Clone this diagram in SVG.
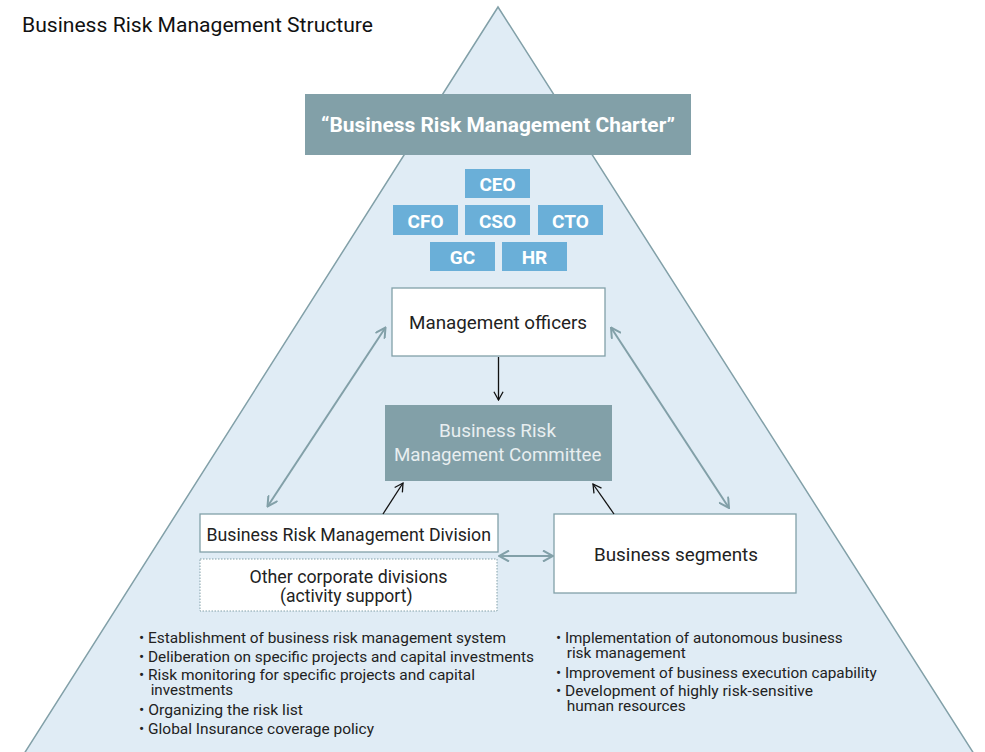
<svg xmlns="http://www.w3.org/2000/svg" width="985" height="752" viewBox="0 0 985 752">
<defs>
<style>
text{font-family:Roboto,"Noto Sans","Liberation Sans",sans-serif;}
.tri{fill:#e0ecf5;stroke:#82a0a8;stroke-width:1.5;}
.role rect{fill:#6aafd8;}
.role text{fill:#fff;font-size:19px;font-weight:bold;text-anchor:middle;}
.box{fill:#fff;stroke:#82a0a8;stroke-width:1.3;}
.lbl{fill:#222;font-size:17.5px;}
.bul{fill:#222;font-size:14px;}
.grey{stroke:#82a0a8;stroke-width:2;fill:none;}
.blk{stroke:#111;stroke-width:1.3;fill:none;}
</style>
<marker id="ga" viewBox="0 0 12 12" refX="11" refY="6" markerWidth="12" markerHeight="12" markerUnits="userSpaceOnUse" orient="auto-start-reverse">
<path d="M1,0.5 L11,6 L1,11.5" fill="none" stroke="#82a0a8" stroke-width="2"/>
</marker>
<marker id="ba" viewBox="0 0 12 12" refX="11" refY="6" markerWidth="11" markerHeight="11" markerUnits="userSpaceOnUse" orient="auto">
<path d="M2,1 L11,6 L2,11" fill="none" stroke="#111" stroke-width="1.4"/>
</marker>
</defs>
<rect width="985" height="752" fill="#fff"/>
<polygon class="tri" points="498,7 22,757 976,757"/>
<text x="22" y="32" font-size="19.5" fill="#111" textLength="351" lengthAdjust="spacingAndGlyphs">Business Risk Management Structure</text>
<g id="charter">
<rect x="305" y="94" width="386" height="61" fill="#82a0a8"/>
<text x="321" y="132" font-size="19.5" font-weight="bold" fill="#fff" textLength="354" lengthAdjust="spacingAndGlyphs">“Business Risk Management Charter”</text>
</g>
<g id="ceo" class="role"><rect x="465" y="169" width="65" height="29"/><text x="497.5" y="190.5">CEO</text></g>
<g id="cfo" class="role"><rect x="393" y="205" width="65" height="30"/><text x="425.5" y="227.5">CFO</text></g>
<g id="cso" class="role"><rect x="465" y="205" width="65" height="30"/><text x="497.5" y="227.5">CSO</text></g>
<g id="cto" class="role"><rect x="538" y="205" width="65" height="30"/><text x="570.5" y="227.5">CTO</text></g>
<g id="gc" class="role"><rect x="430" y="242" width="65" height="29"/><text x="462.5" y="264">GC</text></g>
<g id="hr" class="role"><rect x="502" y="242" width="65" height="29"/><text x="534.5" y="264">HR</text></g>
<g id="officers">
<rect class="box" x="392" y="288" width="213" height="68"/>
<text class="lbl" x="409" y="328.5" textLength="178" lengthAdjust="spacingAndGlyphs">Management officers</text>
</g>
<g id="committee">
<rect x="385" y="405" width="227" height="76" fill="#82a0a8"/>
<text x="439" y="437" font-size="17.5" fill="#e8eef0" textLength="117" lengthAdjust="spacingAndGlyphs">Business Risk</text>
<text x="394" y="461" font-size="17.5" fill="#e8eef0" textLength="207.5" lengthAdjust="spacingAndGlyphs">Management Committee</text>
</g>
<g id="brmd">
<rect class="box" x="200" y="514" width="298" height="38"/>
<text class="lbl" x="206.5" y="540.5" textLength="284.5" lengthAdjust="spacingAndGlyphs">Business Risk Management Division</text>
</g>
<g id="other">
<rect x="200" y="559" width="297" height="52" fill="#fff" stroke="#82a0a8" stroke-width="1" stroke-dasharray="1.5,1.5"/>
<text class="lbl" x="249.5" y="582.5" textLength="198" lengthAdjust="spacingAndGlyphs">Other corporate divisions</text>
<text class="lbl" x="280" y="601.5" textLength="132.5" lengthAdjust="spacingAndGlyphs">(activity support)</text>
</g>
<g id="segments">
<rect class="box" x="554" y="514" width="242" height="79"/>
<text class="lbl" x="594" y="560.5" textLength="164" lengthAdjust="spacingAndGlyphs">Business segments</text>
</g>
<g id="connectors">
<line class="grey" x1="267.5" y1="506.5" x2="385.5" y2="327.5" marker-start="url(#ga)" marker-end="url(#ga)"/>
<line class="grey" x1="611" y1="327.5" x2="729" y2="508" marker-start="url(#ga)" marker-end="url(#ga)"/>
<line class="grey" x1="499" y1="556" x2="553" y2="556" marker-start="url(#ga)" marker-end="url(#ga)"/>
<line class="blk" x1="498.5" y1="357" x2="498.5" y2="400" marker-end="url(#ba)"/>
<line class="blk" x1="383" y1="514" x2="403" y2="483" marker-end="url(#ba)"/>
<line class="blk" x1="614" y1="514" x2="593" y2="484" marker-end="url(#ba)"/>
</g>
<g id="left-notes">
<text class="bul" x="139" y="642.5" textLength="367" lengthAdjust="spacingAndGlyphs">• Establishment of business risk management system</text>
<text class="bul" x="139" y="662" textLength="395" lengthAdjust="spacingAndGlyphs">• Deliberation on specific projects and capital investments</text>
<text class="bul" x="139" y="680" textLength="336" lengthAdjust="spacingAndGlyphs">• Risk monitoring for specific projects and capital</text>
<text class="bul" x="150.7" y="695" textLength="82.5" lengthAdjust="spacingAndGlyphs">investments</text>
<text class="bul" x="139" y="715" textLength="164" lengthAdjust="spacingAndGlyphs">• Organizing the risk list</text>
<text class="bul" x="139" y="734" textLength="235" lengthAdjust="spacingAndGlyphs">• Global Insurance coverage policy</text>
</g>
<g id="right-notes">
<text class="bul" x="556" y="642.5" textLength="286.7" lengthAdjust="spacingAndGlyphs">• Implementation of autonomous business</text>
<text class="bul" x="566.7" y="658" textLength="119" lengthAdjust="spacingAndGlyphs">risk management</text>
<text class="bul" x="556" y="678" textLength="320.7" lengthAdjust="spacingAndGlyphs">• Improvement of business execution capability</text>
<text class="bul" x="556" y="696" textLength="257" lengthAdjust="spacingAndGlyphs">• Development of highly risk-sensitive</text>
<text class="bul" x="566.7" y="711" textLength="119" lengthAdjust="spacingAndGlyphs">human resources</text>
</g>
</svg>
